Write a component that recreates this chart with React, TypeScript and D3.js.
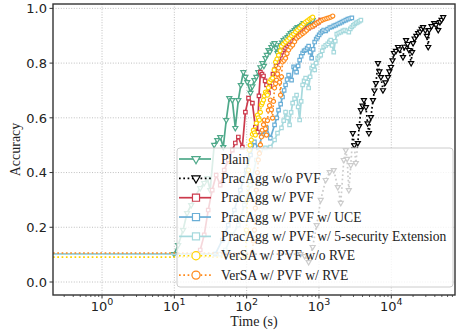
import * as d3 from 'd3'
import React, { useEffect, useRef } from 'react'

// [time (s), accuracy]
const plain: [number, number][] = [
  [0.21, 0.102], [9.9, 0.102], [11.3, 0.135], [13.2, 0.19], [15, 0.252], [17.1, 0.281],
  [19.4, 0.314], [22.8, 0.343], [25.9, 0.362], [28.5, 0.38], [31.3, 0.336], [35.6, 0.501],
  [39.2, 0.519], [43.1, 0.53], [47.5, 0.493], [52.2, 0.592], [57.5, 0.672], [63.3, 0.665],
  [69.7, 0.563], [76.7, 0.665], [83, 0.72], [90, 0.767], [96, 0.75], [102, 0.731],
  [113, 0.691], [120, 0.715], [128, 0.738], [136, 0.75], [145, 0.767], [155, 0.785],
  [165, 0.8], [173, 0.79], [182, 0.818], [190, 0.83], [200, 0.848], [210, 0.842],
  [220, 0.859], [231, 0.868], [243, 0.873], [255, 0.855], [267, 0.837], [280, 0.858],
  [294, 0.866], [309, 0.875], [324, 0.884], [345, 0.89], [368, 0.895], [386, 0.902],
  [405, 0.91], [432, 0.914], [460, 0.921], [483, 0.926], [506, 0.932], [530, 0.93],
  [557, 0.935], [585, 0.94], [613, 0.946], [655, 0.944], [697, 0.95], [730, 0.953],
  [767, 0.954], [790, 0.952], [818, 0.957]
]

const pracAggNoPvf: [number, number][] = [
  [0.21, 0.102], [557, 0.102], [633, 0.095], [719, 0.073], [818, 0.128], [929, 0.208],
  [1057, 0.3], [1238, 0.373], [1409, 0.402], [1600, 0.409], [1820, 0.347], [2002, 0.289],
  [2203, 0.446], [2347, 0.482], [2450, 0.45], [2585, 0.336], [2757, 0.427], [2938, 0.544],
  [3080, 0.5], [3230, 0.435], [3450, 0.508], [3600, 0.57], [3796, 0.628], [4000, 0.645],
  [4180, 0.665], [4460, 0.639], [4700, 0.58], [4900, 0.544], [5230, 0.603], [5580, 0.665],
  [5850, 0.7], [6130, 0.727], [6540, 0.8], [6850, 0.77], [7190, 0.749], [7670, 0.701],
  [8300, 0.73], [9000, 0.749], [9400, 0.77], [9900, 0.786], [10400, 0.81], [10900, 0.837],
  [11600, 0.845], [12400, 0.859], [13000, 0.85], [14500, 0.822], [15200, 0.86],
  [16000, 0.884], [16800, 0.87], [17600, 0.848], [18800, 0.8], [19400, 0.84],
  [20000, 0.873], [21000, 0.89], [22200, 0.9], [23500, 0.91], [25000, 0.915],
  [26200, 0.925], [27500, 0.932], [29500, 0.92], [31000, 0.9], [32400, 0.859],
  [33400, 0.921], [36000, 0.935], [39200, 0.946], [41500, 0.94], [44600, 0.921],
  [47000, 0.95], [49500, 0.958], [52200, 0.968]
]

const pracAggPvf: [number, number][] = [
  [0.21, 0.102], [19.4, 0.102], [22.8, 0.117], [25.9, 0.172], [29.4, 0.263], [33.4, 0.336],
  [37.9, 0.391], [43.1, 0.354], [49, 0.409], [55.7, 0.446], [63.3, 0.482], [69.7, 0.508],
  [76.7, 0.53], [87.1, 0.493], [96, 0.621], [106, 0.672], [120, 0.654], [132, 0.566],
  [141, 0.548], [148, 0.68], [155, 0.767], [163, 0.76], [171, 0.753], [180, 0.735],
  [188, 0.72], [200, 0.691], [210, 0.715], [220, 0.738], [231, 0.76], [243, 0.775],
  [255, 0.79], [267, 0.804], [280, 0.818], [294, 0.829], [309, 0.84], [324, 0.848],
  [345, 0.855], [368, 0.862], [386, 0.87], [405, 0.877], [432, 0.88], [460, 0.884],
  [483, 0.892], [506, 0.899], [530, 0.905], [557, 0.91], [595, 0.915], [633, 0.921],
  [675, 0.925], [719, 0.928], [767, 0.932], [818, 0.935], [870, 0.94], [929, 0.946],
  [990, 0.95], [1057, 0.957]
]

const pracAggUce: [number, number][] = [
  [0.21, 0.102], [36.8, 0.102], [46, 0.153], [55.7, 0.208], [67.5, 0.263], [81.8, 0.336],
  [99.1, 0.409], [113, 0.464], [128, 0.512], [145, 0.49], [165, 0.537], [188, 0.563],
  [213, 0.526], [243, 0.574], [260, 0.6], [276, 0.628], [295, 0.65], [313, 0.676],
  [330, 0.7], [345, 0.72], [362, 0.74], [380, 0.756], [418, 0.738], [446, 0.786],
  [468, 0.78], [490, 0.767], [515, 0.79], [540, 0.811], [567, 0.825], [594, 0.837],
  [622, 0.845], [653, 0.848], [686, 0.855], [719, 0.862], [755, 0.84], [792, 0.818],
  [830, 0.85], [871, 0.877], [915, 0.888], [959, 0.895], [1005, 0.903], [1057, 0.91],
  [1110, 0.916], [1162, 0.921], [1240, 0.918], [1320, 0.924], [1410, 0.93], [1502, 0.932],
  [1600, 0.936], [1707, 0.939], [1820, 0.943], [1940, 0.946], [2070, 0.95], [2203, 0.954],
  [2350, 0.957], [2505, 0.961], [2670, 0.963], [2846, 0.965]
]

const pracAggSec: [number, number][] = [
  [0.21, 0.102], [43.1, 0.102], [50.6, 0.117], [63.3, 0.172], [76.7, 0.208], [92.9, 0.281],
  [113, 0.354], [136, 0.446], [155, 0.482], [182, 0.49], [213, 0.493], [243, 0.519],
  [267, 0.544], [303, 0.563], [325, 0.59], [345, 0.621], [368, 0.6], [392, 0.574],
  [412, 0.62], [432, 0.654], [460, 0.67], [490, 0.683], [515, 0.64], [540, 0.592],
  [567, 0.66], [594, 0.72], [622, 0.735], [653, 0.745], [686, 0.73], [719, 0.709],
  [755, 0.75], [792, 0.782], [830, 0.79], [871, 0.775], [915, 0.8], [959, 0.818],
  [1005, 0.825], [1057, 0.829], [1110, 0.845], [1162, 0.859], [1240, 0.865], [1320, 0.87],
  [1390, 0.878], [1455, 0.884], [1520, 0.865], [1600, 0.84], [1680, 0.88], [1762, 0.906],
  [1880, 0.91], [2002, 0.913], [2140, 0.918], [2274, 0.921], [2430, 0.918], [2585, 0.913],
  [2710, 0.925], [2846, 0.932], [2990, 0.938], [3130, 0.943], [3290, 0.947], [3450, 0.95],
  [3620, 0.953], [3796, 0.957]
]

const versaNoRve: [number, number][] = [
  [0.21, 0.091], [96, 0.091], [99.1, 0.19], [102, 0.3], [106, 0.409], [109, 0.482],
  [112, 0.5], [116, 0.519], [120, 0.54], [124, 0.555], [128, 0.545], [132, 0.537],
  [136, 0.58], [141, 0.61], [145, 0.6], [150, 0.592], [155, 0.62], [160, 0.647],
  [165, 0.655], [171, 0.665], [176, 0.68], [182, 0.694], [188, 0.688], [194, 0.683],
  [200, 0.71], [207, 0.731], [217, 0.74], [228, 0.745], [240, 0.775], [251, 0.804],
  [263, 0.815], [276, 0.829], [290, 0.845], [303, 0.862], [323, 0.87], [345, 0.877],
  [368, 0.884], [392, 0.891], [418, 0.9], [446, 0.906], [475, 0.914], [506, 0.921],
  [540, 0.928], [575, 0.935], [613, 0.943], [653, 0.95], [697, 0.955], [743, 0.961],
  [780, 0.964], [818, 0.968]
]

const versaRve: [number, number][] = [
  [0.21, 0.106], [120, 0.106], [124, 0.15], [128, 0.19], [132, 0.27], [136, 0.336],
  [141, 0.4], [145, 0.446], [150, 0.47], [155, 0.501], [160, 0.53], [165, 0.555],
  [171, 0.575], [176, 0.592], [182, 0.56], [188, 0.537], [194, 0.59], [200, 0.628],
  [207, 0.645], [213, 0.665], [220, 0.63], [228, 0.599], [235, 0.66], [243, 0.709],
  [251, 0.725], [259, 0.738], [267, 0.76], [276, 0.782], [285, 0.73], [294, 0.683],
  [303, 0.75], [313, 0.804], [329, 0.81], [345, 0.818], [362, 0.835], [380, 0.848],
  [405, 0.858], [432, 0.866], [460, 0.878], [490, 0.891], [523, 0.897], [557, 0.902],
  [595, 0.908], [633, 0.913], [675, 0.92], [719, 0.928], [767, 0.932], [818, 0.935],
  [870, 0.94], [929, 0.946], [990, 0.95], [1057, 0.954], [1130, 0.958], [1200, 0.961],
  [1280, 0.963], [1364, 0.965], [1455, 0.968], [1550, 0.972]
]

const yTicks = [0, 0.2, 0.4, 0.6, 0.8, 1.0]
const xTickExps = [0, 1, 2, 3, 4]

type Marker = 'tri' | 'square' | 'circle'
interface Series {
  name: string
  data: [number, number][]
  color: string
  dotted: boolean
  marker: Marker
}

const series: Series[] = [
  { name: 'Plain', data: plain, color: '#4fa98a', dotted: false, marker: 'tri' },
  { name: 'PracAgg w/o PVF', data: pracAggNoPvf, color: '#000000', dotted: true, marker: 'tri' },
  { name: 'PracAgg w/ PVF', data: pracAggPvf, color: '#cc3a4c', dotted: false, marker: 'square' },
  { name: 'PracAgg w/ PVF w/ UCE', data: pracAggUce, color: '#6aaed6', dotted: false, marker: 'square' },
  { name: 'PracAgg w/ PVF w/ 5-security Extension', data: pracAggSec, color: '#a6d9dd', dotted: false, marker: 'square' },
  { name: 'VerSA w/ PVF w/o RVE', data: versaNoRve, color: '#ffd400', dotted: true, marker: 'circle' },
  { name: 'VerSA w/ PVF w/ RVE', data: versaRve, color: '#ff8a1c', dotted: true, marker: 'circle' }
]

function symbolPath(m: Marker, big: boolean) {
  if (m === 'tri') return d3.symbol(d3.symbolTriangle, big ? 30 : 11)()
  if (m === 'square') return d3.symbol(d3.symbolSquare, big ? 50 : 12)()
  return d3.symbol(d3.symbolCircle, big ? 52 : 13)()
}

export default function App() {
  const svgRef = useRef<SVGSVGElement>(null)
  const width = 456
  const height = 332

  useEffect(() => {
    if (!svgRef.current) return
    const margin = { top: 4, right: 1, bottom: 37, left: 53 }
    const innerWidth = width - margin.left - margin.right
    const innerHeight = height - margin.top - margin.bottom

    const svg = d3.select(svgRef.current)
    svg.selectAll('*').remove()

    const x = d3.scaleLog().domain([0.21, 76000]).range([0, innerWidth])
    const y = d3.scaleLinear().domain([-0.0475, 1.016]).range([innerHeight, 0])

    svg.append('rect').attr('width', width).attr('height', height).attr('fill', 'white')

    const g = svg.append('g').attr('transform', `translate(${margin.left},${margin.top})`)

    svg.append('defs').append('clipPath').attr('id', 'plot-clip')
      .append('rect').attr('width', innerWidth).attr('height', innerHeight)

    // grid
    const grid = g.append('g')
    xTickExps.forEach(e => {
      grid.append('line')
        .attr('x1', x(10 ** e)).attr('x2', x(10 ** e))
        .attr('y1', 0).attr('y2', innerHeight)
        .attr('stroke', '#b0b0b0').attr('stroke-width', 0.8).attr('stroke-dasharray', '1,1.6')
    })
    yTicks.forEach(v => {
      grid.append('line')
        .attr('x1', 0).attr('x2', innerWidth)
        .attr('y1', y(v)).attr('y2', y(v))
        .attr('stroke', '#b0b0b0').attr('stroke-width', 0.8).attr('stroke-dasharray', '1,1.6')
    })

    // series
    const line = d3.line<[number, number]>().x(d => x(d[0])).y(d => y(d[1]))
    const plot = g.append('g').attr('clip-path', 'url(#plot-clip)')
    series.forEach(s => {
      plot.append('path')
        .attr('d', line(s.data))
        .attr('fill', 'none')
        .attr('stroke', s.color)
        .attr('stroke-width', 1.7)
        .attr('stroke-dasharray', s.dotted ? '1.7,2.6' : null)
      plot.selectAll(null)
        .data(s.data.slice(1))
        .enter().append('path')
        .attr('d', symbolPath(s.marker, false))
        .attr('transform', d => `translate(${x(d[0])},${y(d[1])})${s.marker === 'tri' ? ' rotate(180)' : ''}`)
        .attr('fill', 'white')
        .attr('stroke', s.color)
        .attr('stroke-width', 1.2)
    })

    // frame
    g.append('rect')
      .attr('width', innerWidth).attr('height', innerHeight)
      .attr('fill', 'none').attr('stroke', '#333').attr('stroke-width', 1.4)

    // y axis
    const yAxis = g.append('g')
    yTicks.forEach(v => {
      yAxis.append('line').attr('x1', -3.5).attr('x2', 0).attr('y1', y(v)).attr('y2', y(v))
        .attr('stroke', '#333').attr('stroke-width', 1)
      yAxis.append('text')
        .attr('x', -6).attr('y', y(v)).attr('dy', '0.36em')
        .attr('text-anchor', 'end')
        .attr('font-family', 'DejaVu Sans').attr('font-size', 13).attr('fill', '#222')
        .text(d3.format('.1f')(v))
    })

    // x axis (log)
    const xAxis = g.append('g').attr('transform', `translate(0,${innerHeight})`)
    for (let e = -1; e <= 4; e++) {
      for (let k = 2; k <= 9; k++) {
        const t = k * 10 ** e
        if (t < x.domain()[0] || t > x.domain()[1]) continue
        xAxis.append('line').attr('x1', x(t)).attr('x2', x(t)).attr('y1', 0).attr('y2', 2)
          .attr('stroke', '#333').attr('stroke-width', 0.8)
      }
    }
    xTickExps.forEach(e => {
      xAxis.append('line').attr('x1', x(10 ** e)).attr('x2', x(10 ** e)).attr('y1', 0).attr('y2', 3.5)
        .attr('stroke', '#333').attr('stroke-width', 1)
      const txt = xAxis.append('text')
        .attr('x', x(10 ** e)).attr('y', 16)
        .attr('text-anchor', 'middle')
        .attr('font-family', 'DejaVu Sans').attr('font-size', 13).attr('fill', '#222')
      txt.append('tspan').text('10')
      txt.append('tspan').attr('dy', -6).attr('font-size', 9.5).text(String(e))
    })

    // axis labels
    svg.append('text')
      .attr('x', margin.left + innerWidth / 2).attr('y', 326)
      .attr('text-anchor', 'middle')
      .attr('font-family', 'Liberation Serif').attr('font-size', 14).attr('fill', '#222')
      .text('Time (s)')
    svg.append('text')
      .attr('transform', `translate(20,${margin.top + innerHeight / 2}) rotate(-90)`)
      .attr('text-anchor', 'middle')
      .attr('font-family', 'Liberation Serif').attr('font-size', 14).attr('fill', '#222')
      .text('Accuracy')

    // legend
    const legend = svg.append('g').attr('transform', 'translate(177,148)')
    legend.append('rect')
      .attr('width', 276).attr('height', 139).attr('rx', 3)
      .attr('fill', 'white').attr('fill-opacity', 0.8)
      .attr('stroke', '#cccccc').attr('stroke-width', 1)
    series.forEach((s, i) => {
      const row = legend.append('g').attr('transform', `translate(0,${11 + i * 19.35})`)
      row.append('line').attr('x1', 2).attr('x2', 34).attr('y1', 0).attr('y2', 0)
        .attr('stroke', s.color).attr('stroke-width', 1.7)
        .attr('stroke-dasharray', s.dotted ? '1.7,2.6' : null)
      row.append('path')
        .attr('d', symbolPath(s.marker, true))
        .attr('transform', `translate(19,0)${s.marker === 'tri' ? ' rotate(180)' : ''}`)
        .attr('fill', 'white').attr('stroke', s.color).attr('stroke-width', 1.2)
      row.append('text')
        .attr('x', 44).attr('y', 0).attr('dy', '0.33em')
        .attr('font-family', 'Liberation Serif').attr('font-size', 13.6).attr('fill', '#222')
        .text(s.name)
    })
  }, [])

  return (
    <svg ref={svgRef} width={width} height={height}
      style={{ position: 'absolute', left: 0, top: 0 }} />
  )
}
